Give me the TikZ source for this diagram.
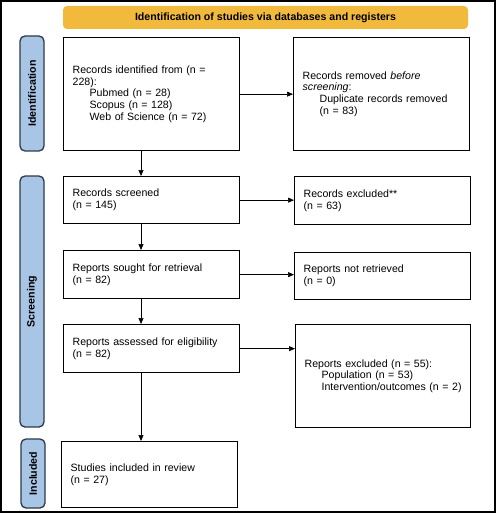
\documentclass[tikz,border=0pt]{standalone}
\usepackage{fontspec}
\setmainfont{Liberation Sans}
\usetikzlibrary{arrows.meta}
\definecolor{hdrgold}{HTML}{F2BA3C}
\definecolor{sideblue}{HTML}{A8C5E6}
\definecolor{sideedge}{HTML}{2B3A4A}
\tikzset{
  txt/.style={font=\fontsize{10.6}{11.8}\selectfont},
  box/.style={draw=black, line width=1.3pt, fill=white, txt, align=left,
    inner xsep=9pt, inner ysep=0pt, anchor=north west},
  side/.style={draw=sideedge, line width=1.3pt, fill=sideblue, rounded corners=5pt},
  sidetxt/.style={font=\bfseries\fontsize{10.6}{11.8}\selectfont, rotate=90},
  arr/.style={-{Triangle[length=6pt,width=5pt]}, line width=0.7pt, black},
}
\begin{document}
\begin{tikzpicture}[x=1pt,y=-1pt]
\useasboundingbox (0,0) rectangle (496,513);
\draw[line width=1.3pt] (1,1) rectangle (495,512);
% header
\node[fill=hdrgold, rounded corners=4pt, minimum width=405pt, minimum height=23pt,
  inner sep=0pt, font=\bfseries\fontsize{10.6}{11.8}\selectfont] (hdr) at (265.5,17.5)
  {Identification of studies via databases and registers};
% side labels
\draw[side] (20,36) rectangle (44,151);
\node[sidetxt] (sid) at (32,93.5) {Identification};
\draw[side] (20,176) rectangle (44,427);
\node[sidetxt] (sscr) at (32,301.5) {Screening};
\draw[side] (21,439) rectangle (45,508);
\node[sidetxt] (sinc) at (33,473.5) {Included};
% boxes
\node[box, text width=158pt, minimum height=113pt] (rid) at (63,37)
  {Records identified from (n =\\228):\\\hspace*{17pt}Pubmed (n = 28)\\\hspace*{17pt}Scopus (n = 128)\\\hspace*{17pt}Web of Science (n = 72)};
\node[box, text width=158pt, minimum height=113pt] (rrem) at (293,37)
  {Records removed \emph{before}\\\emph{screening}:\\\hspace*{17pt}Duplicate records removed\\\hspace*{17pt}(n = 83)};
\node[box, text width=158pt, minimum height=47pt] (rscr) at (63,176)
  {Records screened\\(n = 145)};
\node[box, text width=158pt, minimum height=48pt] (rexc) at (294,176)
  {Records excluded**\\(n = 63)};
\node[box, text width=158pt, minimum height=48pt] (rsou) at (63,250)
  {Reports sought for retrieval\\(n = 82)};
\node[box, text width=158pt, minimum height=47pt] (rnot) at (294,252)
  {Reports not retrieved\\(n = 0)};
\node[box, text width=158pt, minimum height=48pt] (rass) at (63,324)
  {Reports assessed for eligibility\\(n = 82)};
\node[box, text width=157pt, minimum height=103pt] (rrex) at (295,324)
  {Reports excluded (n = 55):\\\hspace*{17pt}Population (n = 53)\\\hspace*{17pt}Intervention/outcomes (n = 2)};
\node[box, text width=158pt, minimum height=66pt] (sinr) at (61,441)
  {Studies included in review\\(n = 27)};
% arrows
\draw[arr] (rid.east) -- (rrem.west);
\draw[arr] (rid.south -| 141,0) -- (rscr.north -| 141,0);
\draw[arr] (rscr.east) -- (rexc.west |- rscr.east);
\draw[arr] (rscr.south -| 141,0) -- (rsou.north -| 141,0);
\draw[arr] (rsou.east) -- (rnot.west |- rsou.east);
\draw[arr] (rsou.south -| 141,0) -- (rass.north -| 141,0);
\draw[arr] (rass.east) -- (rrex.west |- rass.east);
\draw[arr] (rass.south -| 141,0) -- (sinr.north -| 141,0);
\end{tikzpicture}
\end{document}
